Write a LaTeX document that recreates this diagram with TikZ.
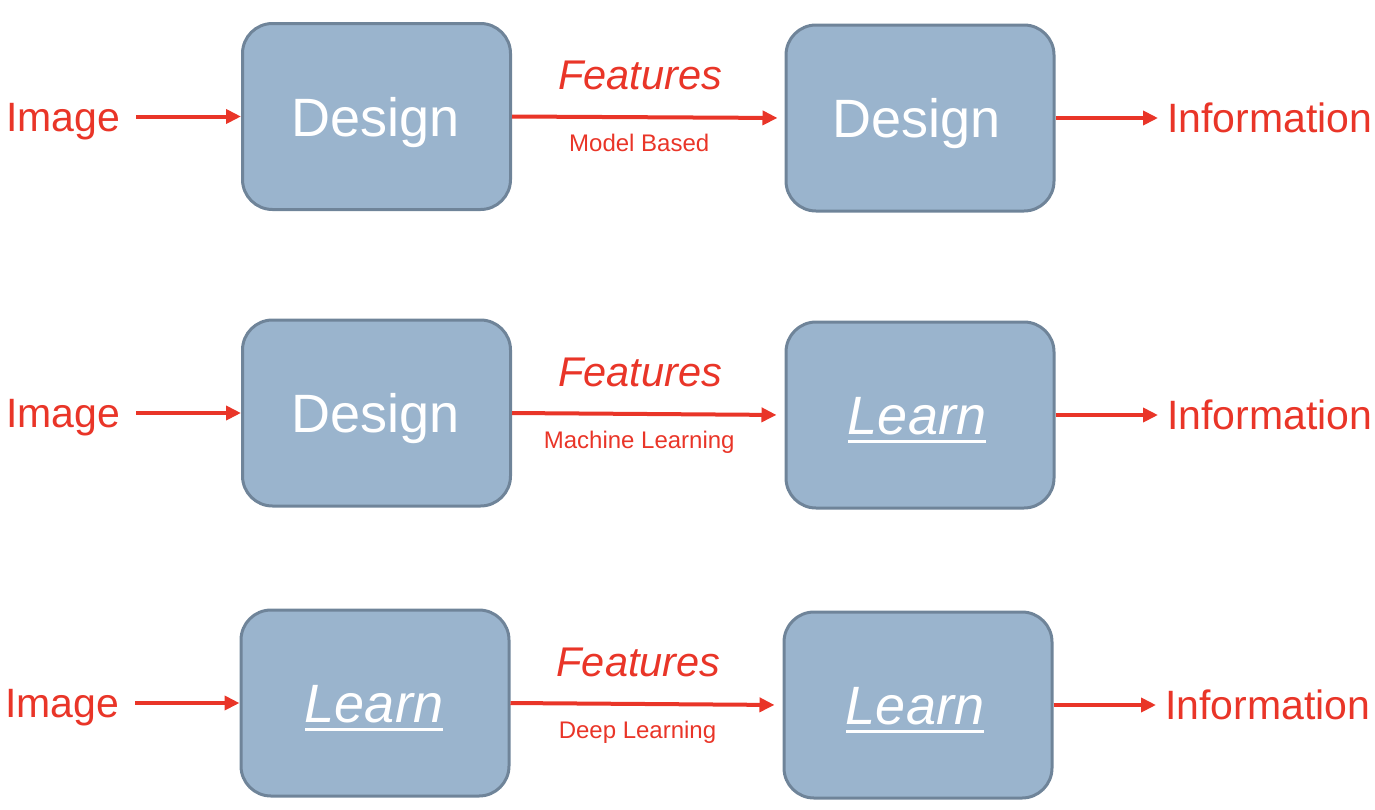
\documentclass[tikz,border=0pt]{standalone}
\usepackage{fontspec}
\setmainfont{Liberation Sans}
\usetikzlibrary{arrows.meta}
\definecolor{myred}{RGB}{233,53,40}
\definecolor{boxfill}{RGB}{154,180,205}
\definecolor{boxline}{RGB}{111,132,153}
\newcommand{\myul}[1]{\setbox0=\hbox{#1}\hbox{\copy0}\llap{\raisebox{-8.5pt}{\rule{\wd0}{3.5pt}}}}
\tikzset{
  box/.style={draw=boxline, fill=boxfill, line width=3pt, rounded corners=30pt,
    minimum width=268pt, minimum height=186pt, inner sep=0pt},
  boxtxt/.style={anchor=base, text=white, inner sep=0pt, font=\fontsize{54}{60}\selectfont},
  endtxt/.style={anchor=base west, text=myred, inner sep=0pt, font=\fontsize{41}{46}\selectfont},
  arr/.style={draw=myred, line width=4pt, -{Triangle[length=15pt,width=14pt]}},
  feat/.style={pos=0.5, anchor=base, yshift=28pt, xshift=-8pt, text=myred, inner sep=0pt, font=\fontsize{41.5}{46}\selectfont\itshape},
  sub/.style={pos=0.5, anchor=base, yshift=-34pt, xshift=-9pt, text=myred, inner sep=0pt, font=\fontsize{24}{27}\selectfont},
}
\begin{document}
\begin{tikzpicture}[x=1pt,y=-1pt]
\useasboundingbox (0,0) rectangle (1375,809);
% row 1
\node[box] (a1) at (376.5,116.5) {};
\node[box] (b1) at (920,118) {};
\node[boxtxt] (ta1) at (375.5,136) {Design};
\node[boxtxt] (tb1) at (917,137.5) {Design};
\node[endtxt] (img1) at (6,131) {Image};
\node[endtxt] (inf1) at (1167,132) {Information};
\draw[arr, shorten <=16pt] (img1.east |- a1.west) -- (a1.west);
\draw[arr, shorten >=7pt] (a1.east) -- (b1.west)
  node[feat] (f1) {Features} node[sub] (s1) {Model Based};
\draw[arr, shorten >=9pt] (b1.east) -- (inf1.west |- b1.east);
% row 2
\node[box] (a2) at (376.5,413) {};
\node[box] (b2) at (920,415) {};
\node[boxtxt] (ta2) at (375.5,432.5) {Design};
\node[boxtxt] (tb2) at (917,434.5) {\myul{\itshape Learn}};
\node[endtxt] (img2) at (6,427) {Image};
\node[endtxt] (inf2) at (1167,429) {Information};
\draw[arr, shorten <=16pt] (img2.east |- a2.west) -- (a2.west);
\draw[arr, shorten >=8pt] (a2.east) -- (b2.west)
  node[feat] (f2) {Features} node[sub] (s2) {Machine Learning};
\draw[arr, shorten >=9pt] (b2.east) -- (inf2.west |- b2.east);
% row 3
\node[box] (a3) at (375,703) {};
\node[box] (b3) at (918,705) {};
\node[boxtxt] (ta3) at (374,722.5) {\myul{\itshape Learn}};
\node[boxtxt] (tb3) at (915,724.5) {\myul{\itshape Learn}};
\node[endtxt] (img3) at (5,717) {Image};
\node[endtxt] (inf3) at (1165,719) {Information};
\draw[arr, shorten <=16pt] (img3.east |- a3.west) -- (a3.west);
\draw[arr, shorten >=8pt] (a3.east) -- (b3.west)
  node[feat] (f3) {Features} node[sub] (s3) {Deep Learning};
\draw[arr, shorten >=9pt] (b3.east) -- (inf3.west |- b3.east);
\end{tikzpicture}
\end{document}
